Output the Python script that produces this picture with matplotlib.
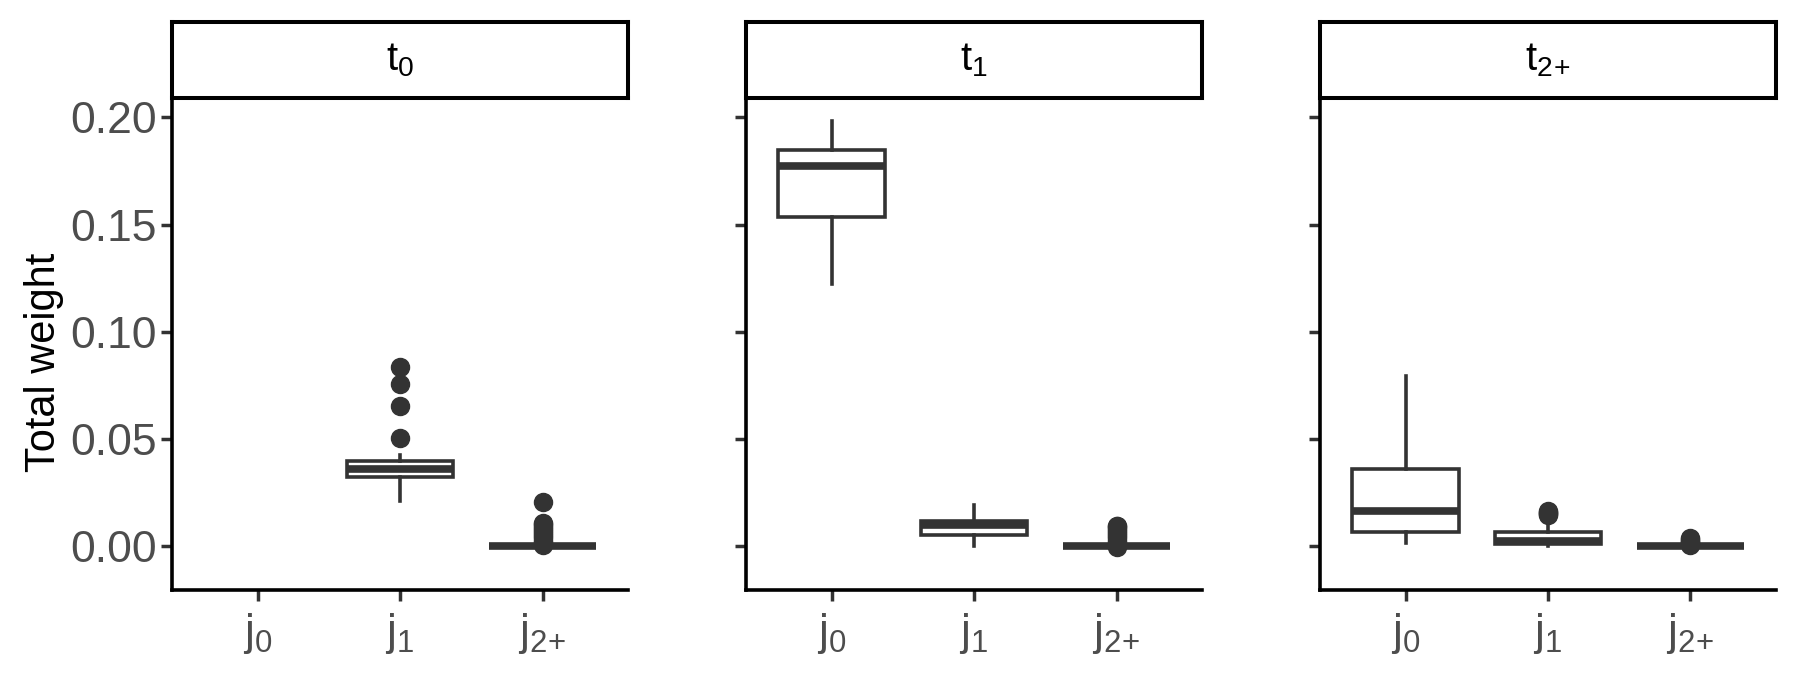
import matplotlib
matplotlib.use('Agg')
import matplotlib.pyplot as plt

plt.rcParams['font.family'] = ['Liberation Sans', 'DejaVu Sans']
plt.rcParams['mathtext.fontset'] = 'custom'
plt.rcParams['mathtext.rm'] = 'Liberation Sans'

# facets and categories
panels = [r'$\mathregular{t_{0}}$', r'$\mathregular{t_{1}}$', r'$\mathregular{t_{2\!+}}$']
categories = [r'$\mathregular{j_{0}}$', r'$\mathregular{j_{1}}$', r'$\mathregular{j_{2\!+}}$']

# box stats per panel, one entry per category (None = no data)
# order: whisker low, Q1, median, Q3, whisker high
t0_stats = [None,
            [0.0210, 0.0322, 0.0359, 0.0398, 0.0424],
            [0.0, 0.0, 0.0, 0.0, 0.0]]
t0_fliers = [[],
             [0.0505, 0.0652, 0.0755, 0.0836],
             [0.0005, 0.0015, 0.0025, 0.0035, 0.0045, 0.0055, 0.0065,
              0.0075, 0.0085, 0.0095, 0.0102, 0.0107, 0.0206]]

t1_stats = [[0.1224, 0.1537, 0.1774, 0.1850, 0.1984],
            [0.0, 0.0050, 0.0098, 0.0118, 0.0190],
            [0.0, 0.0, 0.0, 0.0, 0.0]]
t1_fliers = [[],
             [],
             [-0.0003, 0.0005, 0.0015, 0.0025, 0.0035, 0.0045, 0.0055,
              0.0065, 0.0075, 0.0085, 0.0092, 0.0095]]

t2_stats = [[0.0013, 0.0063, 0.0161, 0.0357, 0.0791],
            [0.0, 0.0009, 0.0025, 0.0063, 0.0105],
            [0.0, 0.0, 0.0, 0.0, 0.0]]
t2_fliers = [[],
             [0.0142, 0.0148, 0.0153, 0.0158, 0.0162],
             [0.0005, 0.0010, 0.0015, 0.0020, 0.0025, 0.0030, 0.0035]]

all_stats = [t0_stats, t1_stats, t2_stats]
all_fliers = [t0_fliers, t1_fliers, t2_fliers]

y_ticks = [0.00, 0.05, 0.10, 0.15, 0.20]
y_ticklabels = ['0.00', '0.05', '0.10', '0.15', '0.20']

dark = '#333333'

fig = plt.figure(figsize=(18, 6.75), dpi=100)

lefts = [172 / 1800, 746 / 1800, 1320 / 1800]
width = 456 / 1800
bottom = 1 - 590 / 675
height = (590 - 98) / 675
strip_h = (98 - 22) / 675

for k in range(3):
    ax = fig.add_axes([lefts[k], bottom, width, height])

    bxp_stats = []
    positions = []
    for i, s in enumerate(all_stats[k]):
        if s is None:
            continue
        bxp_stats.append({'whislo': s[0], 'q1': s[1], 'med': s[2], 'q3': s[3],
                          'whishi': s[4], 'fliers': all_fliers[k][i]})
        positions.append(i + 1)

    ax.bxp(bxp_stats, positions=positions, widths=0.75, patch_artist=True,
           showcaps=False,
           boxprops=dict(facecolor='white', edgecolor=dark, linewidth=2.6),
           medianprops=dict(color=dark, linewidth=5.5, solid_capstyle='butt'),
           whiskerprops=dict(color=dark, linewidth=2.6),
           flierprops=dict(marker='o', markerfacecolor=dark, markeredgecolor=dark,
                           markersize=13, linestyle='none'))

    ax.set_xlim(0.4, 3.6)
    ax.set_ylim(-0.0206, 0.2091)
    ax.set_xticks([1, 2, 3])
    ax.set_xticklabels(categories)
    ax.set_yticks(y_ticks)
    if k == 0:
        ax.set_yticklabels(y_ticklabels)
    else:
        ax.set_yticklabels([])

    for side in ['top', 'right']:
        ax.spines[side].set_visible(False)
    for side in ['left', 'bottom']:
        ax.spines[side].set_color('black')
        ax.spines[side].set_linewidth(2.6)
    ax.tick_params(axis='both', direction='out', length=8, width=2.5,
                   color=dark, labelcolor='#4D4D4D', labelsize=32)
    ax.tick_params(axis='x', pad=7)
    ax.tick_params(axis='y', pad=3)

    # facet strip
    sax = fig.add_axes([lefts[k], bottom + height, width, strip_h])
    sax.set_xticks([])
    sax.set_yticks([])
    for sp in sax.spines.values():
        sp.set_linewidth(2.9)
        sp.set_color('black')
    sax.text(0.5, 0.5, panels[k], ha='center', va='center', fontsize=29,
             color='black', transform=sax.transAxes)

fig.text(44 / 1800, 1 - 362 / 675, 'Total weight', rotation=90, ha='center',
         va='center', fontsize=30, color='black')

fig.savefig('out.png', dpi=100)
